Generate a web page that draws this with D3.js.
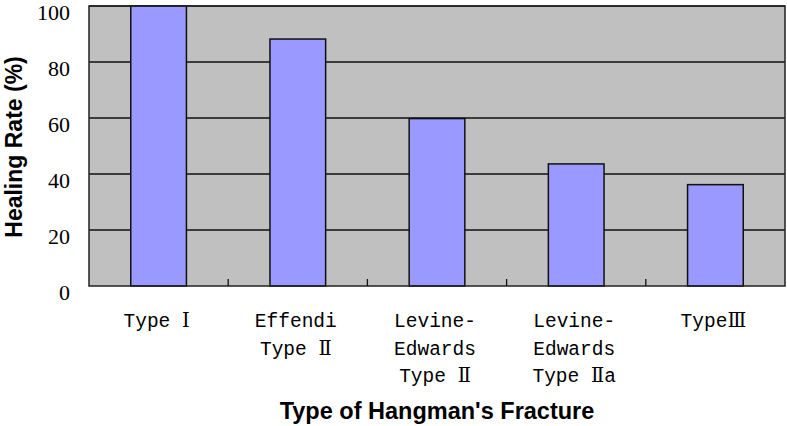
<!DOCTYPE html>
<meta charset="utf-8">

<head>
    <style>
        body { margin: 0; background: #fff; }
        .ylab { font-family: "Liberation Serif", serif; font-size: 22px; }
        .xlab { font-family: "Liberation Mono", "DejaVu Serif", "Noto Sans CJK SC", monospace; font-size: 19.5px; }
        .title { font-family: "Liberation Sans", Arial, sans-serif; font-weight: bold; }
    </style>
    <script src="https://d3js.org/d3.v7.min.js"></script>
</head>

<body>
    <div id="chart"></div>

    <script>
        // data
        const categories = ["Type Ⅰ", "Effendi Type Ⅱ", "Levine-Edwards Type Ⅱ", "Levine-Edwards Type Ⅱa", "TypeⅢ"];
        const labelLines = [["Type Ⅰ"], ["Effendi", "Type Ⅱ"], ["Levine-", "Edwards", "Type Ⅱ"], ["Levine-", "Edwards", "Type Ⅱa"], ["TypeⅢ"]];
        const healingRate = [100, 88.2, 59.8, 43.6, 36.2];
        const yTicks = [0, 20, 40, 60, 80, 100];

        var width = 787, height = 426;
        var margin = { top: 6, right: 2, bottom: 140, left: 89 };
        var plotW = 785 - margin.left, plotH = 286 - margin.top;

        var svg = d3.select("#chart")
            .append("svg")
            .attr("width", width)
            .attr("height", height);

        var g = svg.append("g")
            .attr("transform", "translate(" + margin.left + "," + margin.top + ")");

        var x = d3.scaleBand().domain(categories).range([0, plotW]).padding(0);
        var y = d3.scaleLinear().domain([0, 100]).range([plotH, 0]);

        // plot background
        g.append("rect")
            .attr("width", plotW)
            .attr("height", plotH)
            .attr("fill", "#c0c0c0");

        // gridlines
        g.selectAll(".grid")
            .data(yTicks.filter(d => d > 0))
            .enter()
            .append("line")
            .attr("x1", 0)
            .attr("x2", plotW)
            .attr("y1", d => y(d))
            .attr("y2", d => y(d))
            .attr("stroke", "#111")
            .attr("stroke-width", 1.3);

        // bars
        var barW = x.bandwidth() * 0.4;
        g.selectAll(".bar")
            .data(healingRate)
            .enter()
            .append("rect")
            .attr("x", (d, i) => x(categories[i]) + (x.bandwidth() - barW) / 2)
            .attr("y", d => y(d))
            .attr("width", barW)
            .attr("height", d => plotH - y(d))
            .attr("fill", "#9999ff")
            .attr("stroke", "#111")
            .attr("stroke-width", 1.5);

        // frame
        g.append("rect")
            .attr("width", plotW)
            .attr("height", plotH)
            .attr("fill", "none")
            .attr("stroke", "#222")
            .attr("stroke-width", 1.5);

        // x axis ticks between categories
        g.selectAll(".xtick")
            .data(categories.slice(1))
            .enter()
            .append("line")
            .attr("x1", d => x(d))
            .attr("x2", d => x(d))
            .attr("y1", plotH)
            .attr("y2", plotH - 7)
            .attr("stroke", "#111")
            .attr("stroke-width", 1.3);

        // y tick labels
        g.selectAll(".ylab")
            .data(yTicks)
            .enter()
            .append("text")
            .attr("class", "ylab")
            .attr("x", -19)
            .attr("y", d => y(d) + 6)
            .attr("dy", "0.35em")
            .attr("text-anchor", "end")
            .text(d => d);

        // x tick labels
        var xl = g.selectAll(".xlab")
            .data(categories)
            .enter()
            .append("text")
            .attr("class", "xlab")
            .attr("text-anchor", "middle")
            .attr("transform", d => "translate(" + (x(d) + x.bandwidth() / 2 - 2) + "," + (327 - margin.top) + ")");
        xl.selectAll("tspan")
            .data((d, i) => labelLines[i])
            .enter()
            .append("tspan")
            .attr("x", 0)
            .attr("y", (d, i) => i * 27.5)
            .text(d => d);

        // axis titles
        svg.append("text")
            .attr("class", "title")
            .style("font-size", "23.5px")
            .attr("x", margin.left + plotW / 2)
            .attr("y", 419)
            .attr("text-anchor", "middle")
            .text("Type of Hangman's Fracture");

        svg.append("text")
            .attr("class", "title")
            .style("font-size", "23px")
            .attr("transform", "translate(22," + (margin.top + plotH / 2 + 1) + ") rotate(-90)")
            .attr("text-anchor", "middle")
            .text("Healing Rate (%)");
    </script>
</body>
